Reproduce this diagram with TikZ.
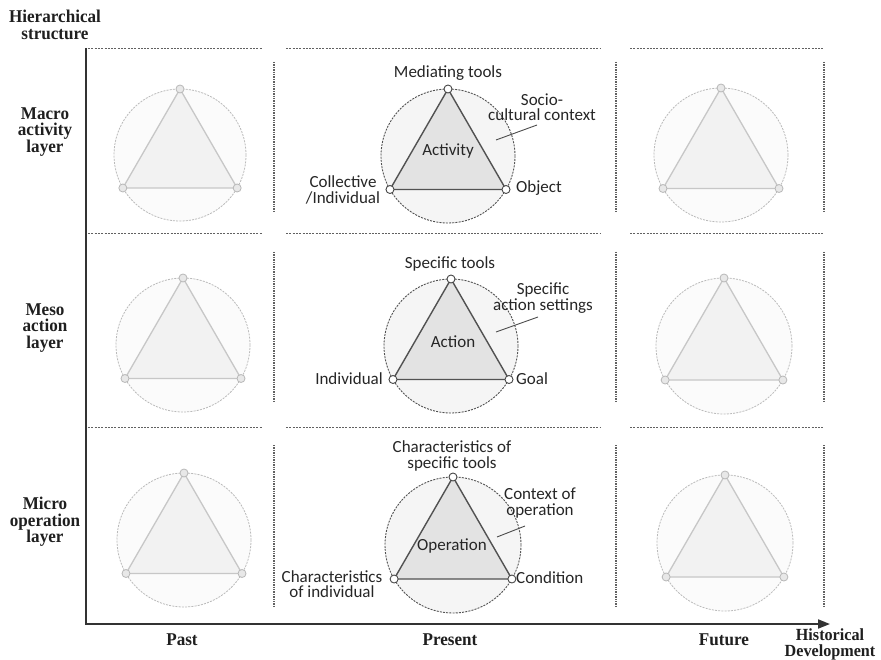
\documentclass[tikz,border=0pt]{standalone}
\usepackage{fontspec}
\setmainfont{Liberation Serif}
\newfontfamily\headfont[FakeStretch=0.95]{Liberation Serif}
\newfontfamily\lblfont{Carlito}
\usetikzlibrary{arrows.meta}

\tikzset{
  gridh/.style={draw=black!62, line width=1pt, dash pattern=on 2pt off 1.3pt},
  gridv/.style={draw=black!62, line width=1.4pt, dash pattern=on 1.4pt off 1pt},
  axis/.style={draw=black!80, line width=1.8pt},
  p-circ/.style={draw=black!68, fill=black!4, line width=0.9pt, dash pattern=on 2pt off 1.2pt},
  f-circ/.style={draw=black!27, fill=black!1.5, line width=0.8pt, dash pattern=on 2pt off 1.2pt},
  p-tri/.style={draw=black!68, fill=black!11, line width=1.4pt, line join=round},
  f-tri/.style={draw=black!22, fill=black!5, line width=1.3pt, line join=round},
  p-vtx/.style={circle, draw=black!72, fill=white, line width=0.9pt, inner sep=0pt, minimum size=8pt},
  f-vtx/.style={circle, draw=black!28, fill=black!9, line width=0.8pt, inner sep=0pt, minimum size=8pt},
  sans/.style={font=\lblfont\fontsize{17}{15.5}\selectfont, text=black!85, align=center, inner sep=0pt},
  serif/.style={font=\headfont\bfseries\fontsize{18}{16.5}\selectfont, text=black!88, align=center, inner sep=0pt},
  lead/.style={draw=black!70, line width=0.9pt},
}

% #1 name, #2 cx, #3 cy, #4 radius, #5 look (p = present, f = faded)
\newcommand\actsys[5]{%
  \path[#5-circ] (#2,#3) circle[radius=#4pt];
  \coordinate (#1-T) at (#2,#3-#4);
  \coordinate (#1-L) at (#2-0.866*#4,#3+0.5*#4);
  \coordinate (#1-R) at (#2+0.866*#4,#3+0.5*#4);
  \filldraw[#5-tri] (#1-T) -- (#1-L) -- (#1-R) -- cycle;
  \node[#5-vtx] (#1-top) at (#1-T) {};
  \node[#5-vtx] (#1-left) at (#1-L) {};
  \node[#5-vtx] (#1-right) at (#1-R) {};
}

\begin{document}
\begin{tikzpicture}[x=1pt,y=-1pt]
\useasboundingbox[fill=white] (0,0) rectangle (881,660);

% dashed cell borders
\foreach \y in {49,234,427} {
  \draw[gridh] (88,\y) -- (262,\y);
  \draw[gridh] (286,\y) -- (600,\y);
  \draw[gridh] (630,\y) -- (824,\y);
}
\foreach \x in {274,616,824} {
  \draw[gridv] (\x,62) -- (\x,213);
  \draw[gridv] (\x,252) -- (\x,402);
  \draw[gridv] (\x,445) -- (\x,607);
}

% axes
\coordinate (ytop) at (86,48);
\coordinate (origin) at (86,624);
\coordinate (xend) at (830,624);
\draw[axis, -{Triangle[length=12pt,width=9pt]}] (ytop) -- (origin) -- (xend);

% past
\actsys{pa1}{180}{155}{66}{f}
\actsys{pa2}{183}{345}{67}{f}
\actsys{pa3}{184}{540}{67}{f}
% future
\actsys{fu1}{721}{155}{67}{f}
\actsys{fu2}{724}{346}{68}{f}
\actsys{fu3}{725}{543}{68}{f}
% present
\actsys{pr1}{448}{156}{67}{p}
\actsys{pr2}{451}{346}{67}{p}
\actsys{pr3}{453}{545}{68}{p}

% macro activity layer
\node[sans] (tools1) at (448,73) {Mediating tools};
\node[sans] (act) at (448,151) {Activity};
\node[sans] (coll) at (343,190) {Collective\\/Individual};
\node[sans, anchor=west] (obj) at (516,188) {Object};
\node[sans] (ctx1) at (542,107) {Socio-\\cultural context};
\coordinate (ctx1a) at (537,125);
\coordinate (ctx1b) at (496,140);
\draw[lead] (ctx1a) -- (ctx1b);

% meso action layer
\node[sans] (tools2) at (450,264) {Specific tools};
\node[sans] (actn) at (453,342) {Action};
\node[sans, anchor=east] (indiv) at (383,379) {Individual};
\node[sans, anchor=west] (goal) at (516,379) {Goal};
\node[sans] (ctx2) at (543,298) {Specific\\action settings};
\coordinate (ctx2a) at (538,317);
\coordinate (ctx2b) at (496,332);
\draw[lead] (ctx2a) -- (ctx2b);

% micro operation layer
\node[sans] (tools3) at (452,456) {Characteristics of\\specific tools};
\node[sans] (oper) at (452,546) {Operation};
\node[sans] (chind) at (332,584) {Characteristics\\of individual};
\node[sans, anchor=west] (cond) at (516,578) {Condition};
\node[sans] (ctx3) at (540,503) {Context of\\operation};
\coordinate (ctx3a) at (525,526);
\coordinate (ctx3b) at (497,537);
\draw[lead] (ctx3a) -- (ctx3b);

% axis labels
\node[serif] (hs) at (55,25) {Hierarchical\\structure};
\node[serif] (macro) at (45,132) {Macro\\activity\\layer};
\node[serif] (meso) at (45,328) {Meso\\action\\layer};
\node[serif] (micro) at (45,522) {Micro\\operation\\layer};
\node[serif] (past) at (182,640) {Past};
\node[serif] (present) at (450,640) {Present};
\node[serif] (future) at (724,640) {Future};
\node[serif, font=\headfont\bfseries\fontsize{17}{16}\selectfont] (hist) at (830,644) {Historical\\Development};
\end{tikzpicture}
\end{document}
